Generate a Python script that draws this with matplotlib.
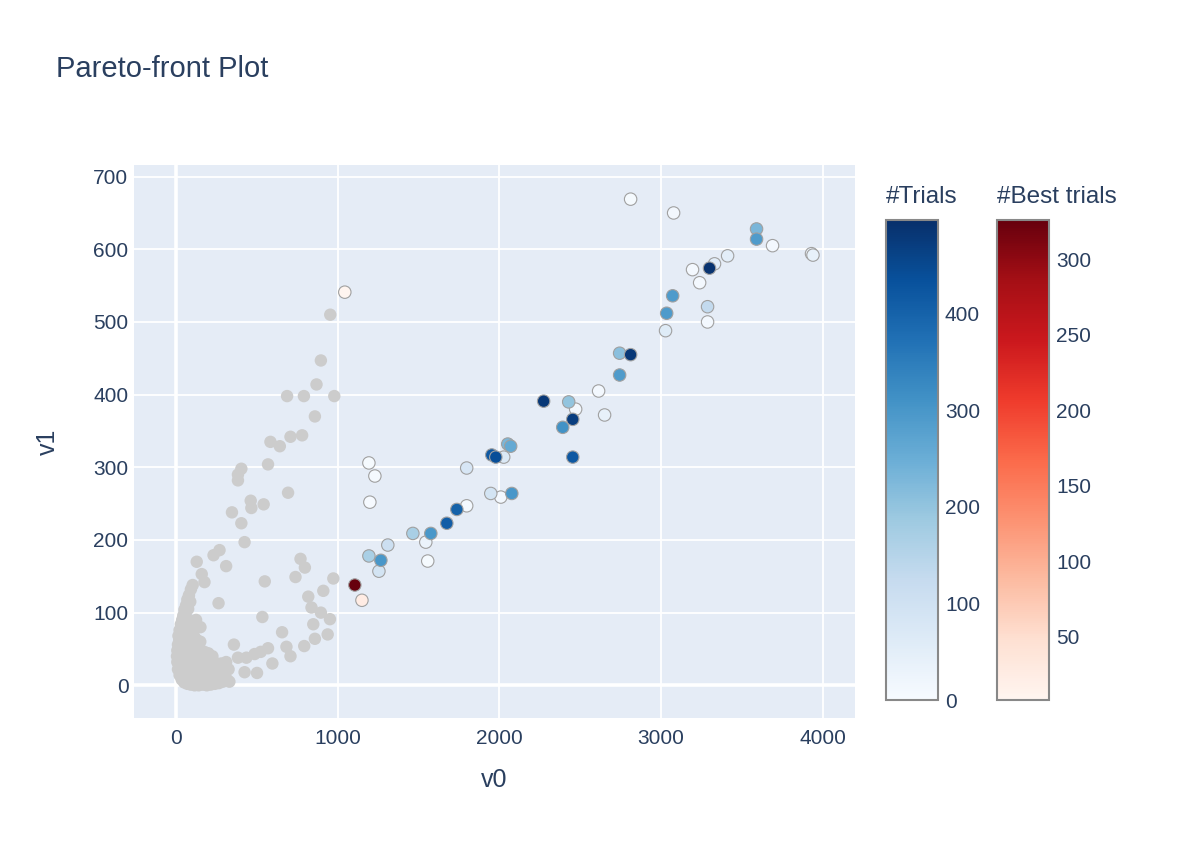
import matplotlib
matplotlib.use("Agg")
import matplotlib.pyplot as plt
import numpy as np
from matplotlib import cm
from matplotlib.colors import Normalize

plt.rcParams['font.family'] = ['Liberation Sans', 'DejaVu Sans']

# === dados: trials dominados (cinza) ===
# pontos espalhados
gray_v0 = [954, 896, 869, 687, 791, 979, 859, 584, 642, 708, 780, 404, 383, 383,
           569, 693, 462, 466, 542, 346, 404, 424, 269, 232, 310, 128, 159, 176,
           549, 770, 797, 739, 973, 911, 818, 838, 896, 952, 849, 938, 859, 793,
           656, 683, 708, 596, 534, 263, 358, 383, 435, 486, 524, 569, 501, 424,
           124, 151]
gray_v1 = [510, 447, 414, 398, 398, 398, 370, 335, 329, 342, 344, 298, 290, 282,
           304, 265, 254, 244, 249, 238, 223, 197, 186, 179, 164, 170, 153, 142,
           143, 174, 162, 149, 147, 130, 122, 107, 100, 91, 84, 70, 64, 54,
           73, 53, 40, 30, 94, 113, 56, 38, 38, 43, 46, 51, 17, 18,
           90, 80]

# aglomerado perto da origem
cluster_v0 = [103, 92, 80, 70, 62, 52, 45, 38, 60, 75, 88,
              30, 22, 15, 40, 55, 70, 85, 50, 35, 65, 80, 100, 115, 95, 130, 150, 60, 20,
              12, 8, 6, 8, 25, 40, 55, 70, 90, 110, 130, 150, 175, 200, 225, 30, 50, 70,
              90, 110, 130, 160, 190, 220, 250, 280, 310, 20,
              12, 22, 35, 50, 70, 90, 115, 140, 165, 190, 215, 240, 265, 290, 315, 330,
              40, 60, 80, 100, 120, 145, 170, 195, 220, 245, 270, 300, 325, 60, 90, 120,
              150, 180, 210, 240]
cluster_v1 = [138, 132, 124, 118, 110, 104, 96, 90, 96, 105, 115,
              84, 76, 68, 80, 84, 88, 82, 70, 64, 72, 70, 74, 66, 62, 62, 60, 60, 62,
              56, 48, 40, 32, 50, 54, 50, 56, 52, 54, 50, 48, 46, 44, 40, 38, 40, 42,
              40, 38, 36, 36, 34, 32, 30, 30, 32, 30,
              22, 14, 8, 4, 2, 1, 0, 0, 1, 0, 1, 2, 3, 5, 8, 5,
              22, 18, 14, 20, 12, 16, 10, 18, 14, 20, 14, 20, 22, 28, 26, 28,
              24, 26, 24, 10]

# === melhores trials (azul, cor = número do trial) ===
blue_v0 = [1193, 1230, 1199, 1193, 1267, 1255, 1310, 1465, 1576, 1545, 1557, 1675,
           1737, 1798, 1798, 1947, 2009, 2077, 1953, 1978, 2027, 2052, 2070, 2274,
           2429, 2472, 2454, 2392, 2454, 2614, 2651, 2744, 2812, 2744, 3028, 3035,
           3072, 3288, 3288, 3195, 3239, 3300, 3331, 3412, 3591, 3591, 3690, 3931,
           3940, 2812, 3078]
blue_v1 = [306, 288, 252, 178, 172, 157, 193, 209, 209, 197, 171, 223,
           242, 247, 299, 264, 259, 264, 317, 314, 314, 332, 329, 391,
           390, 380, 366, 355, 314, 405, 372, 457, 455, 427, 488, 512,
           536, 521, 500, 572, 554, 574, 580, 591, 628, 614, 605, 594,
           592, 669, 650]
blue_trial = [5, 8, 3, 170, 300, 90, 110, 170, 300, 30, 5, 410,
              400, 10, 80, 90, 10, 300, 420, 440, 70, 230, 260, 480,
              200, 15, 470, 310, 420, 10, 40, 210, 480, 290, 60, 290,
              290, 130, 10, 10, 10, 490, 50, 50, 230, 290, 10, 20,
              40, 5, 15]

# === trials em vermelho ===
red_v0 = [1044, 1150, 1106]
red_v1 = [541, 117, 138]
red_trial = [8, 25, 326]

FONT_COLOR = '#2a3f5f'
W, H = 1200, 851

fig = plt.figure(figsize=(W / 100, H / 100), dpi=100)
ax = fig.add_axes([134 / W, 1 - 718 / H, (855 - 134) / W, (718 - 165) / H])
ax.set_facecolor('#E5ECF6')
for s in ax.spines.values():
    s.set_visible(False)

ax.set_xlim(-260, 4200)
ax.set_ylim(-45, 716)
ax.set_xticks([0, 1000, 2000, 3000, 4000])
ax.set_yticks([0, 100, 200, 300, 400, 500, 600, 700])
ax.grid(True, color='white', linewidth=1.3)
ax.set_axisbelow(True)
ax.axvline(0, color='white', linewidth=2.6, zorder=0.5)
ax.axhline(0, color='white', linewidth=2.6, zorder=0.5)
ax.tick_params(length=0, labelsize=15, labelcolor=FONT_COLOR)
ax.tick_params(axis='x', pad=8)
ax.tick_params(axis='y', pad=4)
ax.set_xlabel('v0', fontsize=18, color=FONT_COLOR, labelpad=14)
ax.set_ylabel('v1', fontsize=18, color=FONT_COLOR, labelpad=24)

# cinza
ax.scatter(gray_v0 + cluster_v0, gray_v1 + cluster_v1, s=80, color='#cccccc',
           edgecolors='none', zorder=2)

# azul (ordem pelo número do trial)
blue_norm = Normalize(0, 497)
order = np.argsort(blue_trial)
bx = np.array(blue_v0)[order]
by = np.array(blue_v1)[order]
bt = np.array(blue_trial)[order]
ax.scatter(bx, by, s=80, c=bt, cmap='Blues', norm=blue_norm,
           edgecolors='#a0a0a0', linewidths=0.8, zorder=3)

# vermelho
red_norm = Normalize(8, 326)
ax.scatter(red_v0, red_v1, s=80, c=red_trial, cmap='Reds', norm=red_norm,
           edgecolors='#a0a0a0', linewidths=0.8, zorder=4)

# título
fig.text(56 / W, 1 - 69 / H, 'Pareto-front Plot', fontsize=21, color=FONT_COLOR,
         ha='left', va='center')

# === colorbars ===
def add_cbar(x0, cmap, norm, ticks, title):
    cax = fig.add_axes([x0 / W, 1 - 700 / H, 52 / W, 480 / H])
    cb = fig.colorbar(cm.ScalarMappable(norm=norm, cmap=cmap), cax=cax)
    cb.set_ticks(ticks)
    cb.outline.set_edgecolor('#888888')
    cb.outline.set_linewidth(1.5)
    cax.tick_params(length=0, labelsize=15, labelcolor=FONT_COLOR, pad=5)
    fig.text(x0 / W, 1 - 197 / H, title, fontsize=17.5, color=FONT_COLOR,
             ha='left', va='center')

add_cbar(886, 'Blues', blue_norm, [0, 100, 200, 300, 400], '#Trials')
add_cbar(997, 'Reds', red_norm, [50, 100, 150, 200, 250, 300], '#Best trials')

fig.savefig('out.png', dpi=100, facecolor='white')
